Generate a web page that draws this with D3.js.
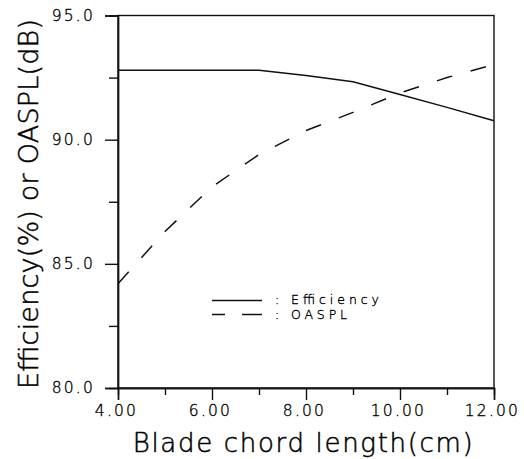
<!DOCTYPE html>
<html>
<head>
<meta charset="utf-8">
<script src="https://cdn.jsdelivr.net/npm/d3@7"></script>
<style>
  html, body { margin: 0; padding: 0; background: #fff; }
  svg { display: block; }
  text { font-family: "DejaVu Sans", "Liberation Sans", sans-serif; font-weight: 200; fill: #000; stroke: #000; stroke-width: 0.35px; }
</style>
</head>
<body>
<svg id="chart" width="524" height="459"></svg>
<script>
// ---- data ----
const chordLength = [4, 5, 6, 7, 8, 9, 10, 11, 12];
const efficiency  = [92.8, 92.8, 92.8, 92.8, 92.58, 92.33, 91.82, 91.3, 90.76];
const oaspl       = [84.2, 86.3, 88.1, 89.4, 90.37, 91.1, 91.88, 92.5, 93.03];
const xMajorTicks = [4, 6, 8, 10, 12];
const xMinorTicks = [5, 7, 9, 11];
const yMajorTicks = [80, 85, 90, 95];
const yMinorTicks = [82.5, 87.5, 92.5];
const seriesNames = ["Efficiency", "OASPL"];
const xTitle = "Blade chord length(cm)";
const yTitle = "Efficiency(%) or OASPL(dB)";

// ---- layout ----
const svg = d3.select("#chart");
const L = 118, R = 494, T = 15.5, B = 388;
const x = d3.scaleLinear().domain([4, 12]).range([L, R]);
const y = d3.scaleLinear().domain([80, 95]).range([B, T]);

// frame
svg.append("rect").attr("x", L).attr("y", T).attr("width", R - L).attr("height", B - T)
  .attr("fill", "none").attr("stroke", "#111").attr("stroke-width", 1.4);

// y axis
const yAx = svg.append("g").attr("transform", `translate(${L},0)`)
  .call(d3.axisLeft(y).tickValues(yMajorTicks).tickSize(13).tickPadding(12)
    .tickFormat(d3.format(".1f")));
svg.append("g").attr("transform", `translate(${L},0)`)
  .call(d3.axisLeft(y).tickValues(yMinorTicks).tickSize(9).tickFormat(""));

// x axis
const xAx = svg.append("g").attr("transform", `translate(0,${B})`)
  .call(d3.axisBottom(x).tickValues(xMajorTicks).tickSize(12).tickPadding(8)
    .tickFormat(d3.format(".2f")));
svg.append("g").attr("transform", `translate(0,${B})`)
  .call(d3.axisBottom(x).tickValues(xMinorTicks).tickSize(7).tickFormat(""));

svg.selectAll(".domain").attr("stroke", "#111").attr("stroke-width", 1.4);
svg.selectAll(".tick line").attr("stroke", "#111").attr("stroke-width", 1.4);
svg.selectAll(".tick text")
  .style("font-family", '"DejaVu Sans", sans-serif').style("font-weight", "200")
  .style("font-size", "15.5px").style("letter-spacing", "2.2px")
  .style("fill", "#000").style("stroke", "#000").style("stroke-width", "0.35px");
yAx.selectAll(".tick text").attr("dx", "2px");
xAx.selectAll(".tick text").attr("dx", "-2px").attr("dy", "0.5em");

// lines
const line = vals => d3.line().x((d, i) => x(chordLength[i])).y(d => y(d))(vals);
svg.append("path").attr("d", line(efficiency))
  .attr("fill", "none").attr("stroke", "#111").attr("stroke-width", 1.5);
svg.append("path").attr("d", line(oaspl))
  .attr("fill", "none").attr("stroke", "#111").attr("stroke-width", 1.5)
  .attr("stroke-dasharray", "16,19");

// legend
const lg = svg.append("g");
lg.append("line").attr("x1", 212).attr("x2", 262).attr("y1", 300.5).attr("y2", 300.5)
  .attr("stroke", "#111").attr("stroke-width", 1.5);
lg.append("line").attr("x1", 212).attr("x2", 262).attr("y1", 314.5).attr("y2", 314.5)
  .attr("stroke", "#111").attr("stroke-width", 1.5).attr("stroke-dasharray", "13,17,20");
lg.append("text").attr("x", 275).attr("y", 304).style("font-size", "12.5px")
  .attr("textLength", 104).attr("lengthAdjust", "spacing").text(": " + seriesNames[0]);
lg.append("text").attr("x", 275).attr("y", 319).style("font-size", "12.5px")
  .attr("textLength", 72).attr("lengthAdjust", "spacing").text(": " + seriesNames[1]);

// titles
svg.append("text").attr("x", 302.7).attr("y", 452).attr("text-anchor", "middle")
  .style("font-size", "26px").style("stroke-width", "0.5px")
  .attr("textLength", 340).attr("lengthAdjust", "spacing").text(xTitle);
svg.append("text").attr("transform", "translate(37.5,204) rotate(-90)")
  .attr("text-anchor", "middle").style("font-size", "27px").style("stroke-width", "0.5px")
  .attr("textLength", 370).attr("lengthAdjust", "spacing").text(yTitle);
</script>
</body>
</html>
